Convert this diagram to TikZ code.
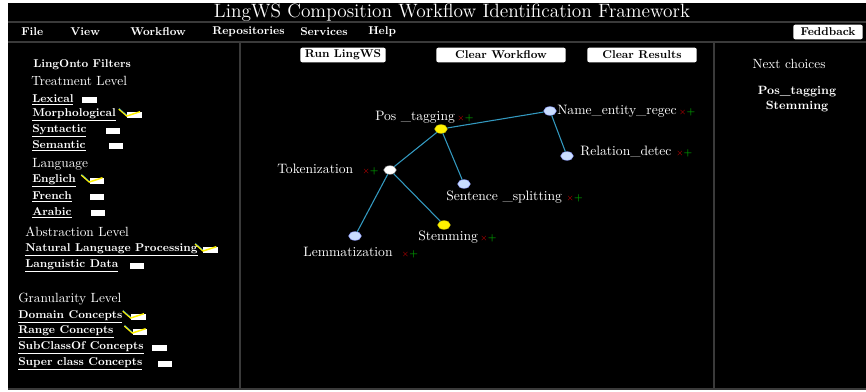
\documentclass[tikz,border=0pt]{standalone}
\usetikzlibrary{positioning, shapes.geometric, calc}
\definecolor{rule}{HTML}{3A3A3A}
\definecolor{wire}{HTML}{3399C0}
\definecolor{pale}{HTML}{C9DDFF}
\definecolor{sun}{HTML}{FFF200}
\newcommand\xp{\,{\fontsize{6.5}{6.5}\selectfont\textcolor{red!85!black}{$\times$}\textcolor{green!60!black}{\textbf{+}}}}
\newcommand\tickon[1]{%
  \draw[sun, line width=1.1pt] ($(#1.west)+(-8,-6)$) -- ($(#1.west)+(0,1)$) -- ($(#1.north east)+(-2,0)$);
  \draw[wire, line width=0.3pt] ($(#1.west)+(-8,-7)$) -- ($(#1.west)+(0,0)$);}

\begin{document}
\begin{tikzpicture}[x=0.75pt, y=-0.75pt,
  every node/.style={inner sep=0pt, text=white},
  menu/.style={anchor=west, font=\fontsize{8.5}{10}\selectfont\bfseries},
  head/.style={anchor=west, font=\fontsize{10}{12}\selectfont},
  opt/.style={anchor=west, font=\fontsize{8.5}{10}\selectfont\bfseries},
  box/.style={fill=white, minimum width=11pt, minimum height=4.5pt, right=6pt of #1},
  btn/.style={fill=white, text=black, rounded corners=1.5pt, minimum height=11pt,
    font=\fontsize{8.5}{10}\selectfont\bfseries},
  task/.style={ellipse, minimum width=9.5pt, minimum height=6.5pt, fill=pale, draw=pale!70!blue, line width=0.3pt},
  picked/.style={task, fill=sun, draw=sun!80!black},
  lbl/.style={anchor=west, font=\fontsize{10.2}{12}\selectfont},
  flow/.style={wire, line width=0.8pt}
]
  \useasboundingbox (0,0) rectangle (866,392);
  \fill[white] (0,0) rectangle (866,392);
  \fill[black] (8,3) rectangle (866,389);
  \draw[rule, line width=1.5pt] (8,22) -- (866,22);
  \draw[rule, line width=1.5pt] (8,42) -- (866,42);
  \draw[rule, line width=1.5pt] (240,42) -- (240,389);
  \draw[rule, line width=1.5pt] (714,42) -- (714,389);
  \draw[rule, line width=1.2pt] (8,389) -- (866,389);

  % title and menu bar
  \node[font=\fontsize{14.5}{16}\selectfont] (title) at (452,13) {LingWS Composition Workflow Identification Framework};
  \node[menu] (file) at (21,32) {File};
  \node[menu] (view) at (70,32) {View};
  \node[menu] (workflow) at (130,32) {Workflow};
  \node[menu] (repos) at (212,32) {Repositories};
  \node[menu] (services) at (300,32) {Services};
  \node[menu] (help) at (368,32) {Help};
  \node[btn, minimum width=52pt] (feedback) at (828,32) {Feddback};

  % buttons
  \node[btn, minimum width=64pt] (run) at (343,55) {Run LingWS};
  \node[btn, minimum width=97pt] (clearwf) at (501,55) {Clear Workflow};
  \node[btn, minimum width=82pt] (clearres) at (642,55) {Clear Results};

  % filters
  \node[opt] (filters) at (33,65) {LingOnto Filters};
  \node[head] (treat) at (31,81) {Treatment Level};
  \node[opt] (lex) at (32,100) {\underline{Lexical}};
  \node[box=lex] (lexbox) {};
  \node[opt] (morph) at (32,115) {\underline{Morphological}};
  \node[box=morph, right=8pt of morph] (morphbox) {};
  \node[opt] (syn) at (32,131) {\underline{Syntactic}};
  \node[box=syn, right=14pt of syn] (synbox) {};
  \node[opt] (sem) at (32,146) {\underline{Semantic}};
  \node[box=sem, right=17pt of sem] (sembox) {};
  \node[head] (lang) at (32,164) {Language};
  \node[opt] (en) at (32,181) {\underline{Englich}};
  \node[box=en, right=10pt of en] (enbox) {};
  \node[opt] (fr) at (32,197) {\underline{French}};
  \node[box=fr, right=13pt of fr] (frbox) {};
  \node[opt] (ar) at (32,213) {\underline{Arabic}};
  \node[box=ar, right=14pt of ar] (arbox) {};
  \node[head] (abstr) at (25,232) {Abstraction Level};
  \node[opt] (nlp) at (25,250) {\underline{Natural Language Processing}};
  \node[box=nlp, right=4pt of nlp] (nlpbox) {};
  \node[opt] (data) at (25,266) {\underline{Languistic Data}};
  \node[box=data, right=8pt of data] (databox) {};
  \node[head] (gran) at (18,299) {Granularity Level};
  \node[opt] (dom) at (18,317) {\underline{Domain Concepts}};
  \node[box=dom] (dombox) {};
  \node[opt] (range) at (18,332) {\underline{Range Concepts}};
  \node[box=range, right=14pt of range] (rangebox) {};
  \node[opt] (sub) at (18,348) {\underline{SubClassOf Concepts}};
  \node[box=sub] (subbox) {};
  \node[opt] (super) at (18,364) {\underline{Super class Concepts}};
  \node[box=super, right=11pt of super] (superbox) {};
  \tickon{morphbox}
  \tickon{enbox}
  \tickon{nlpbox}
  \tickon{dombox}
  \tickon{rangebox}

  % workflow
  \node[picked] (pos) at (441,129) {};
  \node[task] (ner) at (550,111) {};
  \node[task, fill=white, draw=gray] (tok) at (390,170) {};
  \node[task] (sent) at (464,184) {};
  \node[task] (rel) at (567,156) {};
  \node[picked] (stem) at (444,225) {};
  \node[task] (lemma) at (355,236) {};
  \draw[flow] (pos) -- (ner);
  \draw[flow] (pos) -- (tok);
  \draw[flow] (pos) -- (sent);
  \draw[flow] (ner) -- (rel);
  \draw[flow] (tok) -- (lemma);
  \draw[flow] (tok) -- (stem);
  \node[lbl] (poslbl) at (375,117) {Pos \_tagging\xp};
  \node[lbl] (nerlbl) at (557,111) {Name\_entity\_regec\xp};
  \node[lbl] (toklbl) at (277,170) {Tokenization\enspace\xp};
  \node[lbl] (sentlbl) at (446,197) {Sentence \_splitting\,\xp};
  \node[lbl] (rellbl) at (580,152) {Relation\_detec\,\xp};
  \node[lbl] (stemlbl) at (418,237) {Stemming\xp};
  \node[lbl] (lemmalbl) at (303,253) {Lemmatization\enspace\xp};

  % next choices
  \node[head, anchor=center] (next) at (789,64) {Next choices};
  \node[opt, anchor=center, font=\fontsize{9}{11}\selectfont\bfseries] (nextpos) at (797,92) {Pos\_tagging};
  \node[opt, anchor=center, font=\fontsize{9}{11}\selectfont\bfseries] (nextstem) at (797,107) {Stemming};
\end{tikzpicture}
\end{document}
